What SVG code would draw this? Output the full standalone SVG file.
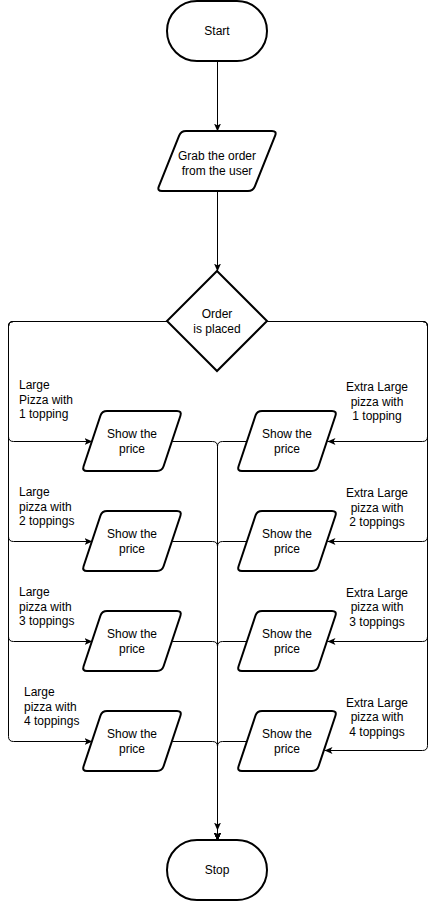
<svg xmlns="http://www.w3.org/2000/svg" width="436" height="902" viewBox="0 0 436 902">
<style>
.shape{fill:#fff;stroke:#000;stroke-width:2}
.edge{fill:none;stroke:#000;stroke-width:1}
text{font-family:"Liberation Sans",Arial,sans-serif;font-size:12px;fill:#000}
.c{text-anchor:middle}
.l{text-anchor:start}
</style>
<defs>
<marker id="arr" markerUnits="userSpaceOnUse" markerWidth="9" markerHeight="8" refX="8" refY="3.5" orient="auto">
<path d="M0,0 L8,3.5 L0,7 L2,3.5 Z" fill="#000"/>
</marker>
<path id="para100" d="M1.58,55.26 L18.42,4.74 Q20,0 25,0 L95,0 Q100,0 98.42,4.74 L81.58,55.26 Q80,60 75,60 L5,60 Q0,60 1.58,55.26 Z"/>
<path id="para120" d="M1.86,55.36 L22.14,4.64 Q24,0 29,0 L115,0 Q120,0 118.14,4.64 L97.86,55.36 Q96,60 91,60 L5,60 Q0,60 1.86,55.36 Z"/>
</defs>
<rect width="436" height="902" fill="#fff"/>
<g id="connectors" transform="translate(0.5,0.5)">
<path class="edge" d="M217,61 L217,131" marker-end="url(#arr)"/>
<path class="edge" d="M217,191 L217,271" marker-end="url(#arr)"/>
<path class="edge" d="M167,321 L13,321 Q8,321 8,326 L8,436 Q8,441 13,441 L92,441" marker-end="url(#arr)"/>
<path class="edge" d="M167,321 L13,321 Q8,321 8,326 L8,536 Q8,541 13,541 L92,541" marker-end="url(#arr)"/>
<path class="edge" d="M167,321 L13,321 Q8,321 8,326 L8,636 Q8,641 13,641 L92,641" marker-end="url(#arr)"/>
<path class="edge" d="M167,321 L13,321 Q8,321 8,326 L8,736 Q8,741 13,741 L92,741" marker-end="url(#arr)"/>
<path class="edge" d="M267,321 L422,321 Q427,321 427,326 L427,436 Q427,441 422,441 L327,441" marker-end="url(#arr)"/>
<path class="edge" d="M267,321 L422,321 Q427,321 427,326 L427,536 Q427,541 422,541 L327,541" marker-end="url(#arr)"/>
<path class="edge" d="M267,321 L422,321 Q427,321 427,326 L427,636 Q427,641 422,641 L327,641" marker-end="url(#arr)"/>
<path class="edge" d="M267,321 L422,321 Q427,321 427,326 L427,745 Q427,750 422,750 L324,750" marker-end="url(#arr)"/>
<path class="edge" d="M172,441 L212,441 Q217,441 217,446 L217,840" marker-end="url(#arr)"/>
<path class="edge" d="M172,541 L212,541 Q217,541 217,546 L217,840" marker-end="url(#arr)"/>
<path class="edge" d="M172,641 L212,641 Q217,641 217,646 L217,840" marker-end="url(#arr)"/>
<path class="edge" d="M172,741 L212,741 Q217,741 217,746 L217,840" marker-end="url(#arr)"/>
<path class="edge" d="M247,441 L222,441 Q217,441 217,446 L217,840" marker-end="url(#arr)"/>
<path class="edge" d="M247,541 L222,541 Q217,541 217,546 L217,840" marker-end="url(#arr)"/>
<path class="edge" d="M247,641 L222,641 Q217,641 217,646 L217,840" marker-end="url(#arr)"/>
<path class="edge" d="M247,741 L222,741 Q217,741 217,746 L217,830" marker-end="url(#arr)"/>
</g>
<g id="labels">
<text class="l" x="19" y="389">Large</text>
<text class="l" x="19" y="403.5">Pizza with</text>
<text class="l" x="19" y="418">1 topping</text>
<text class="l" x="19" y="496">Large</text>
<text class="l" x="19" y="510.5">pizza with</text>
<text class="l" x="19" y="525">2 toppings</text>
<text class="l" x="19" y="596">Large</text>
<text class="l" x="19" y="610.5">pizza with</text>
<text class="l" x="19" y="625">3 toppings</text>
<text class="l" x="24" y="696">Large</text>
<text class="l" x="24" y="710.5">pizza with</text>
<text class="l" x="24" y="725">4 toppings</text>
<text class="c" x="377" y="391">Extra Large</text>
<text class="c" x="377" y="405.5">pizza with</text>
<text class="c" x="377" y="420">1 topping</text>
<text class="c" x="377" y="497">Extra Large</text>
<text class="c" x="377" y="511.5">pizza with</text>
<text class="c" x="377" y="526">2 toppings</text>
<text class="c" x="377" y="596.5">Extra Large</text>
<text class="c" x="377" y="611">pizza with</text>
<text class="c" x="377" y="625.5">3 toppings</text>
<text class="c" x="377" y="706.5">Extra Large</text>
<text class="c" x="377" y="721">pizza with</text>
<text class="c" x="377" y="735.5">4 toppings</text>
</g>
<g id="start">
<rect class="shape" x="167" y="1" width="100" height="60" rx="30" ry="30"/>
<text class="c" x="217" y="35">Start</text>
</g>
<g id="grab">
<use href="#para120" class="shape" x="157" y="131"/>
<text class="c" x="217" y="160">Grab the order</text>
<text class="c" x="217" y="174.5">from the user</text>
</g>
<g id="decision">
<path class="shape" d="M217,271 L267,321 L217,371 L167,321 Z"/>
<text class="c" x="217" y="318">Order</text>
<text class="c" x="217" y="332.5">is placed</text>
</g>
<g id="showL1"><use href="#para100" class="shape" x="82" y="411"/><text class="c" x="132" y="438">Show the</text><text class="c" x="132" y="452.5">price</text></g>
<g id="showL2"><use href="#para100" class="shape" x="82" y="511"/><text class="c" x="132" y="538">Show the</text><text class="c" x="132" y="552.5">price</text></g>
<g id="showL3"><use href="#para100" class="shape" x="82" y="611"/><text class="c" x="132" y="638">Show the</text><text class="c" x="132" y="652.5">price</text></g>
<g id="showL4"><use href="#para100" class="shape" x="82" y="711"/><text class="c" x="132" y="738">Show the</text><text class="c" x="132" y="752.5">price</text></g>
<g id="showR1"><use href="#para100" class="shape" x="237" y="411"/><text class="c" x="287" y="438">Show the</text><text class="c" x="287" y="452.5">price</text></g>
<g id="showR2"><use href="#para100" class="shape" x="237" y="511"/><text class="c" x="287" y="538">Show the</text><text class="c" x="287" y="552.5">price</text></g>
<g id="showR3"><use href="#para100" class="shape" x="237" y="611"/><text class="c" x="287" y="638">Show the</text><text class="c" x="287" y="652.5">price</text></g>
<g id="showR4"><use href="#para100" class="shape" x="237" y="711"/><text class="c" x="287" y="738">Show the</text><text class="c" x="287" y="752.5">price</text></g>
<g id="stop">
<rect class="shape" x="167" y="840" width="100" height="60" rx="30" ry="30"/>
<text class="c" x="217" y="874">Stop</text>
</g>
</svg>
